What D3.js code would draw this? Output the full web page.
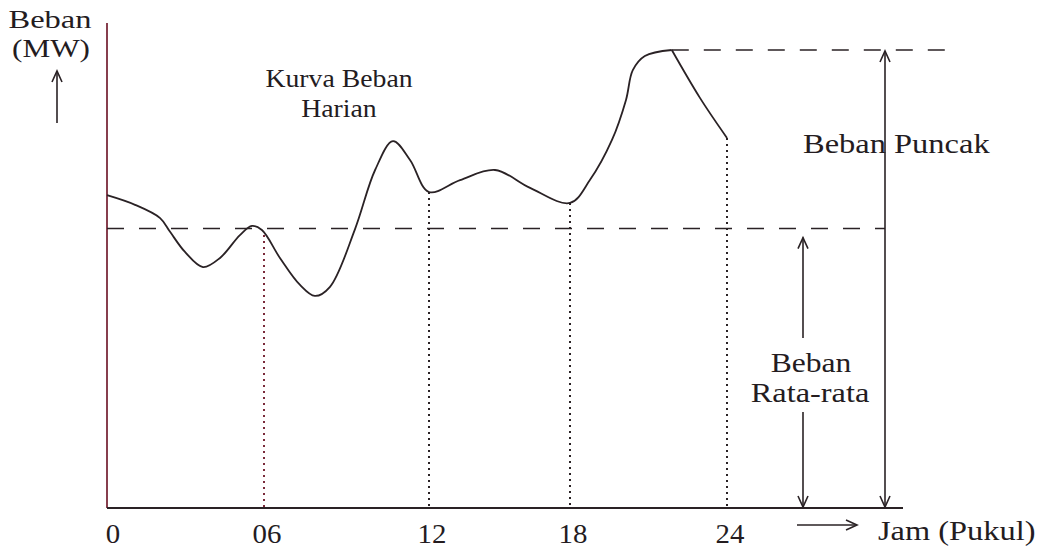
<!DOCTYPE html>
<html>
<head>
<meta charset="utf-8">
<script src="https://cdn.jsdelivr.net/npm/d3@7"></script>
<style>
  body { margin: 0; background: #fff; }
  text { font-family: 'Liberation Serif', 'Times New Roman', serif; fill: #241c1f; }
</style>
</head>
<body>
<div id="chart"></div>
<script>
// Data (hour, load in MW, peak = 100)
const hours = [0, 1.07, 2.03, 2.41, 2.98, 3.67, 4.32, 5.08, 5.54, 5.92, 6.58, 7.31, 7.85, 8.4, 9.31,
    10.04, 10.69, 11.31, 12, 13.32, 14.81, 16.3, 18, 18.76, 19.6, 20.14, 20.4, 20.86, 21.89, 22.96, 24];
const loads = [68.3, 66.2, 63.3, 60.3, 55.9, 52.6, 54.6, 59.6, 61.6, 60.7, 54.6, 48.7, 46.3, 48.3, 60.9,
    73.8, 80.1, 76, 69, 71.6, 73.8, 69.9, 66.6, 71.6, 80.3, 89.1, 95.6, 98.7, 100, 89.6, 80.8];
const tickHours = [0, 6, 12, 18, 24];
const tickLabels = ['0', '06', '12', '18', '24'];
const dropHours = [6, 12, 18, 24];
const dropLoads = [59.6, 69, 66.6, 80.8];
const averageLoad = 61;
const peakLoad = 100;
const peakHour = 21.89;

const width = 1047, height = 549;
const dark = '#2a2225';
const redish = '#7a2a3a';

const svg = d3.select('#chart').append('svg')
    .attr('width', width)
    .attr('height', height);

// Hand-drawn hours are not evenly spaced, so use a piecewise scale
const x = d3.scaleLinear()
    .domain(tickHours)
    .range([107, 264, 429, 570, 727]);
const y = d3.scaleLinear()
    .domain([0, peakLoad])
    .range([508, 50]);

const axisEnd = 903;      // right end of the time axis
const peakArrowX = 885;   // "Beban Puncak" arrow
const avgArrowX = 803;    // "Beban Rata-rata" arrow

// Stretched serif text, like the scanned figure
const label = (txt, px, py, size, sx, anchor = 'middle') => {
    svg.append('text')
        .attr('transform', `translate(${px}, ${py}) scale(${sx}, 1)`)
        .attr('text-anchor', anchor)
        .style('font-size', size + 'px')
        .text(txt);
};

// Open V arrow head at (px, py) pointing in direction dir
const arrowHead = (px, py, dir) => {
    const L = 11, W = 5;
    let d;
    if (dir === 'up') d = `M${px - W},${py + L} L${px},${py} L${px + W},${py + L}`;
    if (dir === 'down') d = `M${px - W},${py - L} L${px},${py} L${px + W},${py - L}`;
    if (dir === 'right') d = `M${px - L},${py - W} L${px},${py} L${px - L},${py + W}`;
    svg.append('path')
        .attr('d', d)
        .attr('fill', 'none')
        .attr('stroke', dark)
        .attr('stroke-width', 1.6);
};

const vline = (px, y1, y2, color, w = 1.5, dash = null) => {
    svg.append('line')
        .attr('x1', px).attr('x2', px)
        .attr('y1', y1).attr('y2', y2)
        .attr('stroke', color)
        .attr('stroke-width', w)
        .attr('stroke-dasharray', dash);
};
const hline = (x1, x2, py, color, w = 1.5, dash = null) => {
    svg.append('line')
        .attr('x1', x1).attr('x2', x2)
        .attr('y1', py).attr('y2', py)
        .attr('stroke', color)
        .attr('stroke-width', w)
        .attr('stroke-dasharray', dash);
};

// Axes
vline(x(0), 23, y(0), redish, 1.8);
hline(x(0), axisEnd, y(0), dark, 1.8);

// Tick labels
tickHours.forEach((h, i) => {
    label(tickLabels[i], x(h) + (i === 0 ? 6 : 3), 543, 27, 1.07);
});

// Dotted drop lines
dropHours.forEach((h, i) => {
    vline(x(h), y(dropLoads[i]), y(0), i === 0 ? redish : dark, 2, '2,4');
});

// Average and peak dashed lines
hline(x(0), peakArrowX, y(averageLoad), dark, 1.5, '17,15');
hline(x(peakHour), 946, y(peakLoad), dark, 1.5, '17,15');

// Load curve: smooth up to the peak, then a nearly straight drop
const pts = d3.zip(hours, loads);
const peakIdx = hours.indexOf(peakHour);
const smooth = d3.line()
    .x(d => x(d[0]))
    .y(d => y(d[1]))
    .curve(d3.curveCatmullRom.alpha(0.5));
const drop = d3.line()
    .x(d => x(d[0]))
    .y(d => y(d[1]))
    .curve(d3.curveMonotoneX);
svg.append('path')
    .datum(pts.slice(0, peakIdx + 1))
    .attr('d', smooth)
    .attr('fill', 'none')
    .attr('stroke', dark)
    .attr('stroke-width', 1.8);
svg.append('path')
    .datum(pts.slice(peakIdx))
    .attr('d', drop)
    .attr('fill', 'none')
    .attr('stroke', dark)
    .attr('stroke-width', 1.8);

// Peak load arrow (double headed)
vline(peakArrowX, y(peakLoad) + 1, y(0) - 1, dark, 1.6);
arrowHead(peakArrowX, y(peakLoad) + 1, 'up');
arrowHead(peakArrowX, y(0) - 1, 'down');

// Average load arrows
vline(avgArrowX, y(averageLoad) + 9, 338, dark, 1.6);
arrowHead(avgArrowX, y(averageLoad) + 9, 'up');
vline(avgArrowX, 412, y(0) - 1, dark, 1.6);
arrowHead(avgArrowX, y(0) - 1, 'down');

// Y axis title and arrow
label('Beban', 50, 28, 26, 1.25);
label('(MW)', 51, 57, 26, 1.2);
vline(57, 72, 123, dark, 1.6);
arrowHead(57, 71, 'up');

// Annotations
label('Kurva Beban', 339, 87, 25, 1.11);
label('Harian', 339, 117, 25, 1.11);
label('Beban Puncak', 803, 153, 28, 1.16, 'start');
label('Beban', 811, 372, 27, 1.17);
label('Rata-rata', 810, 402, 27, 1.2);

// Time axis title
hline(797, 857, 525, dark, 1.6);
arrowHead(857, 525, 'right');
label('Jam (Pukul)', 878, 540, 27, 1.2, 'start');
</script>
</body>
</html>
